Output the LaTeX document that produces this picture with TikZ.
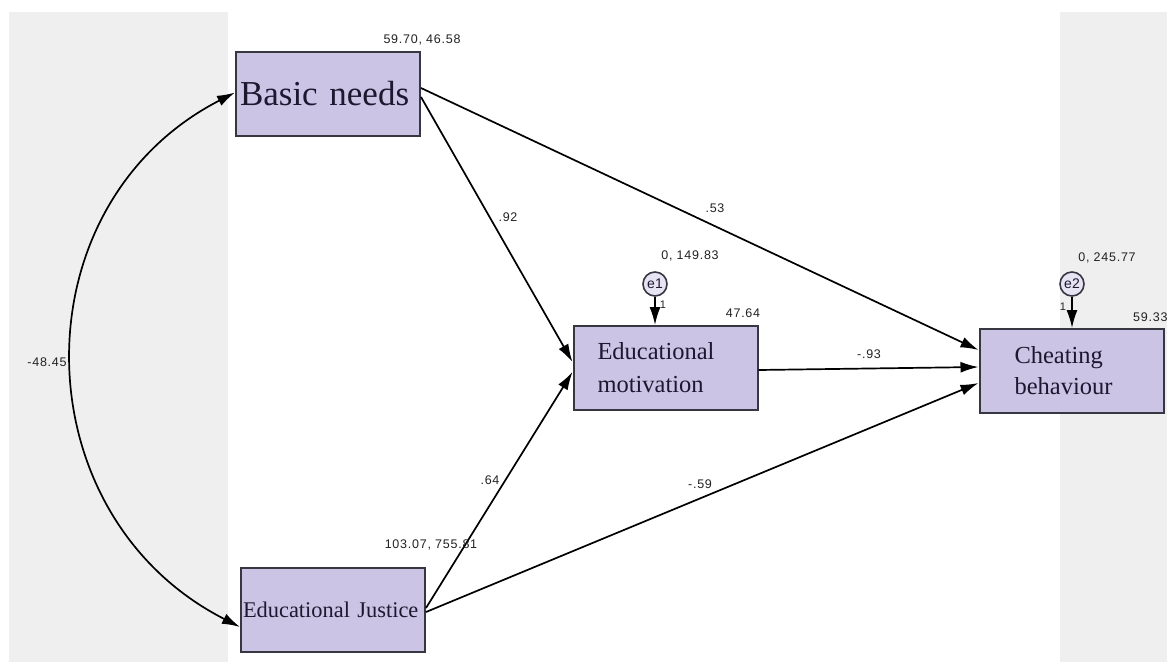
\documentclass[tikz,border=0pt]{standalone}
\usepackage{fontspec}
\setmainfont{Liberation Serif}
\newfontfamily\labfont[LetterSpace=6.0]{Liberation Sans}
\newfontfamily\errfont{Liberation Sans}
\usetikzlibrary{arrows.meta,calc}
\definecolor{bggray}{HTML}{EFEFEF}
\definecolor{boxfill}{RGB}{204,196,228}
\definecolor{boxline}{RGB}{55,55,65}
\definecolor{errfill}{RGB}{232,227,243}
\definecolor{labcol}{HTML}{222222}
\definecolor{boxtext}{RGB}{28,24,48}
\begin{document}
\begin{tikzpicture}[x=1pt,y=-1pt,
  var/.style={draw=boxline, line width=2pt, fill=boxfill, minimum width=184pt,
    minimum height=84pt, inner ysep=0pt, align=left, text=boxtext},
  conn/.style={line width=1.7pt, -{Latex[length=18pt,width=11pt]}},
  cov/.style={line width=1.7pt, {Latex[length=18pt,width=11pt]}-{Latex[length=18pt,width=11pt]}},
  lab/.style={font=\labfont\fontsize{12.5}{12.5}\selectfont, text=labcol, inner sep=0pt},
  one/.style={font=\errfont\fontsize{11}{11}\selectfont, text=labcol, inner sep=0pt},
  err/.style={circle, draw=boxline, line width=1.6pt, fill=errfill, minimum size=24pt,
    inner sep=0pt, font=\errfont\fontsize{14}{14}\selectfont, text=boxtext}]
\useasboundingbox (0,0) rectangle (1167,662);
\fill[white] (0,0) rectangle (1167,662);
\fill[bggray] (9,12) rectangle (228,662);
\fill[bggray] (1060,12) rectangle (1167,662);

% variables
\node[var, text width=176pt, inner xsep=4pt, font=\fontsize{35}{40}\selectfont] (bn) at (328,93.5) {Basic needs};
\node[var, text width=136pt, inner xsep=24pt, font=\fontsize{24.5}{33}\selectfont] (em) at (665.5,368) {Educational\\motivation};
\node[var, text width=114pt, inner xsep=35pt, font=\fontsize{24.5}{31}\selectfont] (ch) at (1071.5,371) {Cheating\\behaviour};
\node[var, text width=180pt, inner xsep=2pt, font=\fontsize{22.4}{26}\selectfont] (ej) at (333,610) {Educational Justice};

% error terms
\node[err] (e1) at (655,284) {e1};
\node[err] (e2) at (1072,284) {e2};

% paths
\draw[conn] ([yshift=-3.5pt]bn.east) -- ([yshift=6pt]em.west);
\draw[conn] ([yshift=5.5pt]bn.east) -- ([yshift=21pt]ch.west);
\draw[conn] ([yshift=-2pt]em.east) -- ([yshift=4pt]ch.west);
\draw[conn] ([yshift=2pt]ej.east) -- ([yshift=-4pt]em.west);
\draw[conn] ([yshift=-2pt]ej.east) -- ([yshift=-12pt]ch.west);
\draw[conn] (e1) -- (em.north -| e1);
\draw[conn] (e2) -- (ch.north -| e2);
\draw[cov] ([yshift=1pt]bn.west) .. controls (16,205) and (20,515) .. ([yshift=-17pt]ej.west);

% labels
\node[lab] (l1) at (422,40) {59.70, 46.58};
\node[lab] (l2) at (690,256) {0, 149.83};
\node[lab] (l3) at (743,313) {47.64};
\node[lab] (l4) at (1107,258) {0, 245.77};
\node[lab, anchor=west] (l5) at (1133,317) {59.33};
\node[lab] (l6) at (431,545) {103.07, 755.81};
\node[lab] (l7) at (508,217) {.92};
\node[lab] (l8) at (490,480) {.64};
\node[lab] (l9) at (715,208) {.53};
\node[lab] (l10) at (869,354) {-.93};
\node[lab] (l11) at (700,484) {-.59};
\node[lab] (l12) at (47,362) {-48.45};
\node[one] (o1) at (663,305) {1};
\node[one] (o2) at (1063,307) {1};
\end{tikzpicture}
\end{document}
